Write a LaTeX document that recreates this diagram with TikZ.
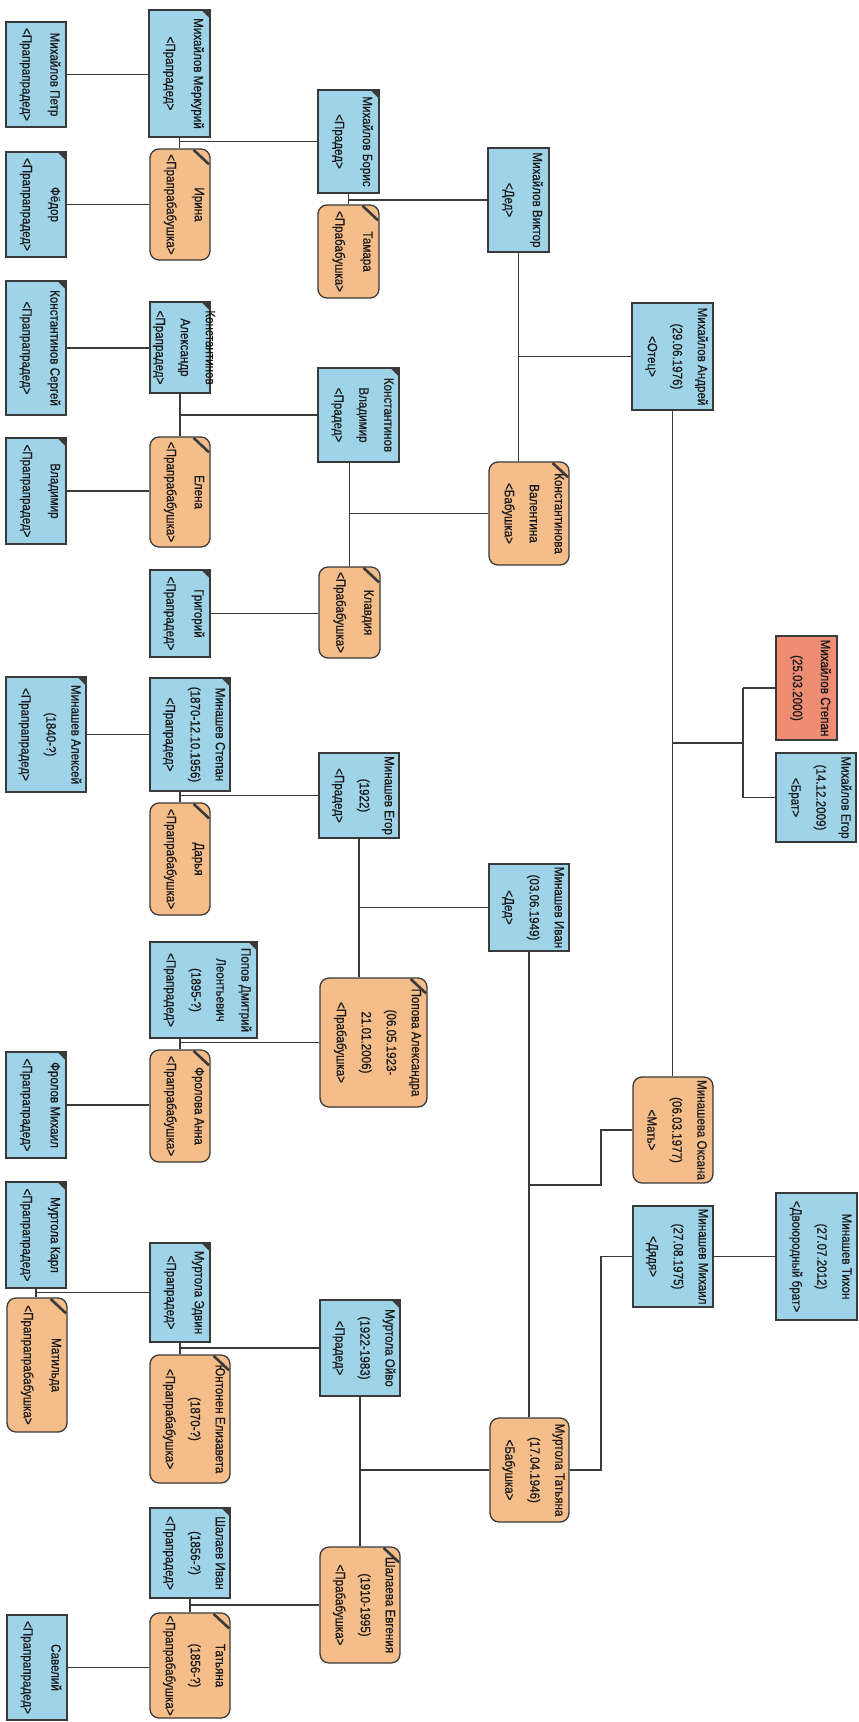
\documentclass[tikz,border=0pt]{standalone}
\usepackage{fontspec}
\setmainfont[FakeStretch=0.86,FakeBold=0.6]{Liberation Sans}
\definecolor{bluef}{HTML}{9FD3E8}
\definecolor{orangef}{HTML}{F4BD8A}
\definecolor{redf}{HTML}{EE8C74}
\definecolor{linec}{HTML}{3A3A3A}
\tikzset{
  boxbase/.style={draw=linec, line width=1.3pt, inner sep=0pt},
  bl/.style={boxbase, fill=bluef},
  or/.style={boxbase, fill=orangef, rounded corners=9pt},
  rd/.style={boxbase, fill=redf},
  txt/.style={rotate=-90, align=center, inner sep=0pt, text=black!90,
    font=\fontsize{13.5}{25}\selectfont},
  conn/.style={draw=linec, line width=1.4pt},
}
\newcommand\pbox[7]{%
  \node[#1, minimum width={(#5-#3)*1pt}, minimum height={(#6-#4)*1pt}] (#2) at ({(#3+#5)/2},{(#4+#6)/2}) {};
  \node[txt] (#2t) at ([xshift=4pt]#2.center) {#7};}
\newcommand\bmark[1]{\fill[linec] (#1.north east) -- ([shift={(-10,0)}]#1.north east) -- ([shift={(0,10)}]#1.north east) -- cycle;}
\newcommand\omark[1]{\draw[linec, line width=2.6pt] ([shift={(-17,1.6)}]#1.north east) -- ([shift={(-1.6,16)}]#1.north east);}
\begin{document}
\begin{tikzpicture}[x=1pt, y=-1pt]
\fill[white] (0,0) rectangle (859,1722);
\useasboundingbox (0,0) rectangle (859,1722);

\coordinate (jo) at (601,1185);
\coordinate (js) at (743,743);

% column 1
\pbox{bl}{petr}{6}{22}{66}{127}{Михайлов Петр\\[3pt]<Прапрапрадед>}
\pbox{bl}{fedor}{6}{152}{66}{257}{Фёдор\\[3pt]<Прапрапрадед>}
\pbox{bl}{sergey}{6}{281}{66}{415}{Константинов Сергей\\[3pt]<Прапрапрадед>}
\pbox{bl}{vladimirz}{6}{438}{66}{544}{Владимир\\[3pt]<Прапрапрадед>}
\pbox{bl}{aleksey}{6}{677}{86}{792}{Минашев Алексей\\(1840-?)\\<Прапрапрадед>}
\pbox{bl}{frolov}{6}{1052}{66}{1158}{Фролов Михаил\\[3pt]<Прапрапрадед>}
\pbox{bl}{karl}{6}{1182}{66}{1288}{Муртола Карл\\[3pt]<Прапрапрадед>}
\pbox{or}{matilda}{7}{1298}{67}{1432}{Матильда\\[3pt]<Прапрапрабабушка>}
\pbox{bl}{saveliy}{7}{1615}{67}{1720}{Савелий\\[3pt]<Прапрапрадед>}

% column 2
\pbox{bl}{merkuriy}{149}{10}{210}{137}{Михайлов Меркурий\\[3pt]<Прапрадед>}
\pbox{or}{irina}{150}{149}{210}{260}{Ирина\\[3pt]<Прапрабабушка>}
\pbox{bl}{aleksandr}{150}{302}{210}{393}{Константинов\\Александр\\<Прапрадед>}
\pbox{or}{elena}{150}{437}{210}{547}{Елена\\[3pt]<Прапрабабушка>}
\pbox{bl}{grigoriy}{150}{570}{210}{657}{Григорий\\[3pt]<Прапрадед>}
\pbox{bl}{stepanz}{150}{678}{230}{791}{Минашев Степан\\(1870-12.10.1956)\\<Прапрадед>}
\pbox{or}{darya}{150}{803}{210}{915}{Дарья\\[3pt]<Прапрабабушка>}
\pbox{bl}{dmitriy}{150}{942}{257}{1038}{Попов Дмитрий\\Леонтьевич\\(1895-?)\\<Прапрадед>}
\pbox{or}{anna}{150}{1050}{210}{1162}{Фролова Анна\\[3pt]<Прапрабабушка>}
\pbox{bl}{edvin}{150}{1243}{210}{1342}{Муртола Эдвин\\[3pt]<Прапрадед>}
\pbox{or}{elizaveta}{150}{1355}{230}{1483}{Юнтонен Елизавета\\(1870-?)\\<Прапрабабушка>}
\pbox{bl}{ivanz}{150}{1508}{230}{1598}{Шалаев Иван\\(1856-?)\\<Прапрадед>}
\pbox{or}{tatyanaz}{150}{1613}{230}{1718}{Татьяна\\(1856-?)\\<Прапрабабушка>}

% column 3
\pbox{bl}{boris}{318}{90}{379}{193}{Михайлов Борис\\[3pt]<Прадед>}
\pbox{or}{tamara}{318}{205}{379}{298}{Тамара\\[3pt]<Прабабушка>}
\pbox{bl}{vladimir}{318}{368}{399}{462}{Константинов\\Владимир\\<Прадед>}
\pbox{or}{klavdiya}{319}{567}{380}{658}{Клавдия\\[3pt]<Прабабушка>}
\pbox{bl}{egorz}{319}{753}{399}{838}{Минашев Егор\\(1922)\\<Прадед>}
\pbox{or}{aleksandra}{320}{978}{427}{1107}{Попова Александра\\(06.05.1923-\\21.01.2006)\\<Прабабушка>}
\pbox{bl}{oyvo}{320}{1300}{400}{1396}{Муртола Ойво\\(1922-1983)\\<Прадед>}
\pbox{or}{evgeniya}{320}{1547}{400}{1663}{Шалаева Евгения\\(1910-1995)\\<Прабабушка>}

% column 4
\pbox{bl}{viktor}{488}{148}{549}{252}{Михайлов Виктор\\[3pt]<Дед>}
\pbox{or}{valentina}{489}{462}{569}{565}{Константинова\\Валентина\\<Бабушка>}
\pbox{bl}{ivan}{489}{864}{569}{951}{Минашев Иван\\(03.06.1949)\\<Дед>}
\pbox{or}{tatyana}{490}{1418}{569}{1522}{Муртола Татьяна\\(17.04.1946)\\<Бабушка>}

% column 5
\pbox{bl}{andrey}{632}{303}{713}{410}{Михайлов Андрей\\(29.06.1976)\\<Отец>}
\pbox{or}{oksana}{633}{1077}{713}{1183}{Минашева Оксана\\(06.03.1977)\\<Мать>}
\pbox{bl}{mikhail}{633}{1206}{713}{1307}{Минашев Михаил\\(27.08.1975)\\<Дядя>}

% column 6
\pbox{rd}{stepan}{776}{636}{837}{740}{Михайлов Степан\\[3pt](25.03.2000)}
\pbox{bl}{egor}{776}{753}{856}{842}{Михайлов Егор\\(14.12.2009)\\<Брат>}
\pbox{bl}{tikhon}{776}{1193}{857}{1320}{Минашев Тихон\\(27.07.2012)\\<Двоюродный брат>}

% corner marks
\foreach \n in {fedor,sergey,vladimirz,aleksey,frolov,karl,merkuriy,aleksandr,grigoriy,stepanz,dmitriy,edvin,ivanz,boris,vladimir,oyvo} {\bmark{\n}}
\foreach \n in {matilda,irina,elena,darya,anna,elizaveta,tatyanaz,tamara,klavdiya,aleksandra,evgeniya,valentina} {\omark{\n}}

% connectors: parent-child horizontals
\draw[conn] (petr.east) -- (petr.east -| merkuriy.west);
\draw[conn] (fedor.east) -- (fedor.east -| irina.west);
\draw[conn] (sergey.east) -- (sergey.east -| aleksandr.west);
\draw[conn] (vladimirz.east) -- (vladimirz.east -| elena.west);
\draw[conn] (aleksey.east) -- (aleksey.east -| stepanz.west);
\draw[conn] (frolov.east) -- (frolov.east -| anna.west);
\draw[conn] (karl.south) -- (karl.south |- matilda.north);
\draw[conn] (edvin.west -| karl.south) -- (edvin.west);
\draw[conn] (saveliy.east) -- (saveliy.east -| tatyanaz.west);
\draw[conn] (grigoriy.east) -- (grigoriy.east -| klavdiya.west);

% couples column 2
\draw[conn] (merkuriy.south) -- (merkuriy.south |- irina.north);
\draw[conn] (boris.west -| merkuriy.south) -- (boris.west);
\draw[conn] (aleksandr.south) -- (aleksandr.south |- elena.north);
\draw[conn] (vladimir.west -| aleksandr.south) -- (vladimir.west);
\draw[conn] (darya.north) -- (darya.north |- stepanz.south);
\draw[conn] (egorz.west -| darya.north) -- (egorz.west);
\draw[conn] (anna.north) -- (anna.north |- dmitriy.south);
\draw[conn] (aleksandra.west -| anna.north) -- (aleksandra.west);
\draw[conn] (edvin.south) -- (edvin.south |- elizaveta.north);
\draw[conn] (oyvo.west -| edvin.south) -- (oyvo.west);
\draw[conn] (ivanz.south) -- (ivanz.south |- tatyanaz.north);
\draw[conn] (evgeniya.west -| ivanz.south) -- (evgeniya.west);

% couples column 3
\draw[conn] (boris.south) -- (boris.south |- tamara.north);
\draw[conn] (viktor.west -| boris.south) -- (viktor.west);
\draw[conn] (klavdiya.north) -- (klavdiya.north |- vladimir.south);
\draw[conn] (valentina.west -| klavdiya.north) -- (valentina.west);
\draw[conn] (egorz.south) -- (egorz.south |- aleksandra.north);
\draw[conn] (ivan.west -| egorz.south) -- (ivan.west);
\draw[conn] (oyvo.south) -- (oyvo.south |- evgeniya.north);
\draw[conn] (tatyana.west -| oyvo.south) -- (tatyana.west);

% couples column 4
\draw[conn] (viktor.south) -- (viktor.south |- valentina.north);
\draw[conn] (andrey.west -| viktor.south) -- (andrey.west);
\draw[conn] (ivan.south) -- (ivan.south |- tatyana.north);
\draw[conn] (ivan.south |- jo) -- (jo) |- (oksana.west);
\draw[conn] (tatyana.east) -- (tatyana.east -| jo) |- (mikhail.west);

% parents and children
\draw[conn] (andrey.south) -- (andrey.south |- oksana.north);
\draw[conn] (andrey.south |- js) -- (js);
\draw[conn] (stepan.west -| js) -- (egor.west -| js);
\draw[conn] (stepan.west -| js) -- (stepan.west);
\draw[conn] (egor.west -| js) -- (egor.west);
\draw[conn] (mikhail.east) -- (mikhail.east -| tikhon.west);
\end{tikzpicture}
\end{document}
